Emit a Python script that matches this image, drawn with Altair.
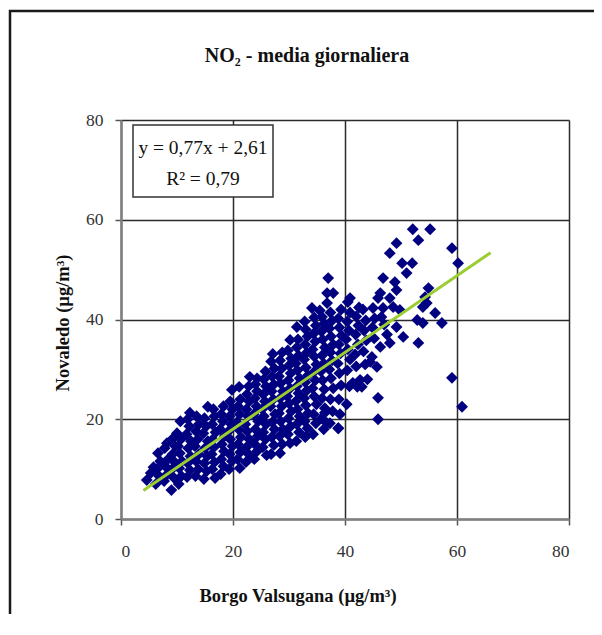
import altair as alt
import pandas as pd

# Scatter cloud (Borgo Valsugana, Novaledo)
core_x = [
    4.6, 5.3, 5.8,
    6.2, 6.8, 6.4, 7.0, 6.6,
    7.7, 8.3, 7.9, 8.4, 7.8, 8.2,
    9.0, 9.5, 9.1, 9.6, 9.2, 9.7, 9.3,
    10.3, 10.8, 10.4, 10.9, 10.5, 10.2, 10.7, 10.0, 10.6,
    11.8, 12.3, 11.9, 12.4, 12.0, 12.5, 11.7, 12.2, 11.9, 12.3,
    13.3, 13.8, 13.4, 13.9, 13.2, 13.7, 13.4, 13.9, 13.5,
    14.8, 15.3, 14.9, 15.4, 15.0, 15.5, 14.7, 15.2, 14.9, 15.5,
    16.8, 16.3, 16.7, 16.2, 16.6, 16.4, 16.9, 16.3, 16.7, 16.5,
    17.8, 18.3, 17.9, 18.4, 18.0, 18.5, 17.7, 18.2, 17.9, 18.3,
    19.3, 19.8, 19.4, 19.9, 19.5, 19.2, 19.7, 19.4, 19.9, 19.5, 19.8,
    21.2, 20.8, 21.3, 20.9, 21.4, 21.0, 20.7, 21.2, 20.9, 21.3, 21.1,
    22.3, 22.8, 22.4, 22.9, 22.5, 22.2, 22.7, 22.4, 22.9, 22.5, 22.8, 23.0,
    23.8, 24.3, 23.9, 24.4, 24.0, 24.5, 23.7, 24.2, 23.9, 24.3, 24.0, 24.3,
    26.0, 25.3, 25.8, 25.4, 25.9, 25.5, 25.2, 25.7, 25.4, 25.9, 25.5, 25.8,
    26.8, 27.3, 26.9, 27.4, 27.0, 27.5, 26.7, 27.2, 26.9, 27.3, 27.0, 27.4, 26.8, 27.1,
    28.4, 28.8, 28.3, 28.9, 28.5, 28.2, 28.7, 28.4, 28.9, 28.5, 28.2, 28.7, 28.4, 28.8,
    30.2, 29.8, 30.3, 29.9, 30.4, 30.0, 29.7, 30.2, 29.9, 30.3, 30.0, 30.4, 29.8, 30.2,
    31.3, 31.8, 31.4, 31.9, 31.5, 31.2, 31.7, 31.4, 31.9, 31.5, 31.2, 31.7, 31.4, 31.6, 31.4,
    32.9, 33.3, 32.8, 33.4, 33.0, 32.7, 33.2, 32.9, 33.4, 33.0, 32.7, 33.2, 32.9, 33.3, 33.0, 32.8,
    34.3, 34.8, 34.4, 34.9, 34.5, 34.2, 34.7, 34.4, 34.9, 34.5, 34.2, 34.7, 34.4, 34.8, 34.5, 34.1,
    36.2, 35.8, 36.4, 35.9, 36.3, 36.0, 35.7, 36.2, 35.9, 36.4, 36.0, 35.8, 36.3, 35.9, 35.5, 36.8,
    37.3, 37.8, 37.4, 37.9, 37.5, 37.2, 37.7, 37.4, 37.9, 37.5, 37.2, 37.7, 37.4, 36.8, 37.9, 37.0,
    38.8, 39.1, 38.9, 39.3, 39.0, 38.7, 39.2, 38.9, 39.4, 39.0, 38.8, 39.3,
    40.3, 40.8, 40.4, 40.9, 40.5, 40.2, 40.7, 40.4, 40.9, 40.5, 40.9,
    42.2, 41.4, 42.7, 42.0, 41.8, 42.3, 41.9, 42.4, 42.0, 42.5,
    43.0, 43.6, 43.3, 43.8, 43.4, 43.7, 43.2,
    45.7, 44.5, 44.8, 45.2, 44.9, 45.3, 45.0, 46.3, 45.9,
]
core_y = [
    7.8, 9.2, 10.4,
    7.0, 8.6, 10.0, 11.6, 13.2,
    7.6, 9.0, 10.6, 12.0, 14.2, 15.2,
    5.8, 8.2, 10.0, 11.4, 13.0, 14.6, 16.2,
    7.0, 8.6, 10.2, 11.6, 13.2, 14.6, 16.0, 17.2, 19.6,
    8.4, 9.8, 11.2, 12.6, 14.2, 15.6, 17.0, 18.6, 20.0, 21.3,
    8.6, 10.0, 11.6, 13.0, 14.6, 16.0, 17.6, 19.0, 20.6,
    8.0, 9.6, 11.2, 12.6, 14.2, 15.6, 17.2, 18.6, 20.2, 22.5,
    8.2, 10.0, 11.4, 13.0, 14.4, 16.0, 17.4, 19.0, 20.6, 22.0,
    9.0, 10.6, 12.0, 13.6, 15.0, 16.6, 18.0, 19.6, 21.0, 22.6,
    10.0, 11.6, 13.0, 14.6, 16.0, 17.6, 19.0, 20.6, 22.0, 23.6, 25.9,
    10.2, 12.0, 13.4, 15.0, 16.4, 18.0, 19.4, 21.0, 22.6, 24.0, 26.5,
    11.4, 13.0, 14.4, 16.0, 17.6, 19.0, 20.6, 22.0, 23.6, 25.0, 26.6, 28.5,
    12.0, 13.6, 15.0, 16.6, 18.0, 19.6, 21.0, 22.6, 24.2, 25.6, 27.0, 28.2,
    12.8, 14.4, 16.0, 17.4, 19.0, 20.6, 22.0, 23.6, 25.0, 26.6, 28.0, 29.6,
    13.0, 14.8, 16.4, 18.0, 19.4, 21.0, 22.6, 24.0, 25.6, 27.0, 28.6, 30.2, 31.6, 33.1,
    13.2, 15.0, 16.6, 18.0, 19.6, 21.2, 22.6, 24.2, 25.6, 27.2, 28.6, 30.2, 31.8, 33.4,
    15.2, 17.0, 18.6, 20.2, 21.6, 23.2, 24.6, 26.2, 27.8, 29.2, 30.8, 32.2, 33.8, 35.9,
    15.6, 17.4, 19.0, 20.6, 22.0, 23.6, 25.2, 26.6, 28.2, 29.8, 31.2, 32.8, 34.4, 36.0, 38.5,
    16.4, 18.2, 19.6, 21.2, 22.8, 24.2, 25.8, 27.4, 28.8, 30.4, 32.0, 33.4, 35.0, 36.6, 38.0, 39.6,
    17.0, 19.2, 21.0, 23.0, 24.6, 26.2, 27.8, 29.4, 31.0, 32.6, 34.0, 35.6, 37.2, 38.8, 40.4, 42.3,
    18.0, 20.2, 22.2, 24.2, 26.0, 27.8, 29.6, 31.2, 32.8, 34.4, 36.0, 37.6, 39.2, 40.5, 41.8, 43.3,
    19.2, 21.6, 24.0, 26.2, 28.2, 30.0, 31.8, 33.4, 35.0, 36.6, 38.2, 39.8, 41.4, 45.3, 45.3, 48.3,
    18.2, 21.0, 24.0, 26.8, 29.2, 31.2, 33.2, 35.0, 36.8, 38.4, 40.2, 42.0,
    23.0, 26.6, 29.8, 32.0, 34.0, 36.0, 37.8, 39.6, 41.4, 43.5, 44.3,
    26.5, 27.3, 27.9, 30.6, 33.0, 35.0, 37.0, 38.8, 40.6, 42.4,
    26.5, 31.0, 33.6, 35.8, 37.8, 39.8, 42.0,
    30.5, 31.5, 32.5, 36.2, 38.4, 40.2, 42.3, 45.3, 44.3,
]

# Scattered points away from the main cloud
outer_x = [45.9, 45.9, 46.3, 46.8, 46.8, 48.0, 48.0, 48.0, 48.6, 48.9,
           49.2, 49.2, 49.2, 49.8, 50.2, 50.4, 51.0, 52.0, 52.1, 52.9,
           53.1, 53.1, 53.9, 53.9, 54.3, 54.6, 54.9, 55.2, 56.1, 57.3,
           59.1, 59.1, 60.2, 60.9, 36.4, 38.8, 36.8, 47.0, 47.5, 46.5, 44.0]
outer_y = [24.3, 20.0, 34.5, 42.3, 48.3, 35.3, 44.3, 53.3, 42.5, 47.5,
           55.3, 45.9, 38.5, 41.9, 51.3, 36.5, 49.3, 51.3, 58.1, 39.9,
           55.9, 35.3, 39.3, 42.5, 44.5, 43.3, 46.3, 58.1, 41.3, 39.3,
           54.3, 28.3, 51.3, 22.5, 21.3, 18.2, 19.2, 39.0, 37.0, 40.5, 28.0]

# Linear trend line end points (y = 0,77x + 2,61)
trend_x = [4.0, 66.0]
trend_y = [5.7, 53.4]

ticks = [0, 20, 40, 60, 80]

assert len(core_x) == len(core_y)
assert len(outer_x) == len(outer_y)

pts = pd.DataFrame({"bv": core_x + outer_x, "nov": core_y + outer_y})
trend = pd.DataFrame({"bv": trend_x, "nov": trend_y})
one = pd.DataFrame({"k": [0]})

SERIF = "Liberation Serif"

xscale = alt.Scale(domain=[0, 80], nice=False, zero=False)
yscale = alt.Scale(domain=[0, 80], nice=False, zero=False)

xaxis = alt.Axis(values=ticks, title=None, grid=True, labelPadding=17)
yaxis = alt.Axis(values=ticks, title=None, grid=True, labelPadding=12)

points = alt.Chart(pts).mark_point(
    shape="diamond", filled=True, size=140, color="#000080", opacity=1
).encode(
    x=alt.X("bv:Q", scale=xscale, axis=xaxis),
    y=alt.Y("nov:Q", scale=yscale, axis=yaxis),
)

line = alt.Chart(trend).mark_line(color="#9ACD32", strokeWidth=3).encode(
    x=alt.X("bv:Q", scale=xscale),
    y=alt.Y("nov:Q", scale=yscale),
)

box = alt.Chart(one).mark_rect(fill="white", stroke="#333333", strokeWidth=1.5).encode(
    x=alt.value(12), x2=alt.value(152), y=alt.value(5), y2=alt.value(77)
)
eq1 = alt.Chart(one).mark_text(
    text="y = 0,77x + 2,61", font=SERIF, fontSize=19.5, color="#111111", align="center", baseline="middle"
).encode(x=alt.value(82), y=alt.value(28))
eq2 = alt.Chart(one).mark_text(
    text="R² = 0,79", font=SERIF, fontSize=19.5, color="#111111", align="center", baseline="middle"
).encode(x=alt.value(82), y=alt.value(59))

title = alt.Chart(one).mark_text(
    text="NO₂ - media giornaliera", font=SERIF, fontSize=20, fontWeight="bold",
    color="#111111", align="center", baseline="middle"
).encode(x=alt.value(186), y=alt.value(-64))

xtitle = alt.Chart(one).mark_text(
    text="Borgo Valsugana (µg/m³)", font=SERIF, fontSize=18.5, fontWeight="bold",
    color="#111111", align="center", baseline="middle"
).encode(x=alt.value(177), y=alt.value(476))

ytitle = alt.Chart(one).mark_text(
    text="Novaledo (µg/m³)", font=SERIF, fontSize=18.5, fontWeight="bold",
    color="#111111", align="center", baseline="middle", angle=270
).encode(x=alt.value(-58), y=alt.value(203))

# outer picture frame (only its left and top edges fall inside the picture)
frame = alt.Chart(one).mark_rect(fill=None, stroke="#1a1a1a", strokeWidth=2.5).encode(
    x=alt.value(-111), x2=alt.value(520), y=alt.value(-109), y2=alt.value(540)
)

chart = alt.layer(
    points, line, box, eq1, eq2, title, xtitle, ytitle, frame
).properties(
    width=448,
    height=399,
    autosize=alt.AutoSizeParams(type="none"),
    padding={"left": 113, "top": 112, "right": 25, "bottom": 95},
    background="white",
).configure_view(
    stroke=None
).configure_axis(
    domainColor="#808080",
    domainWidth=2.5,
    tickColor="#555555",
    tickWidth=1.5,
    tickSize=6,
    gridColor="#2b2b2b",
    gridWidth=1.5,
    gridOpacity=1,
    labelFont=SERIF,
    labelFontSize=17.5,
    labelColor="#333333",
)

chart.save("out.html", embed_options={"renderer": "svg", "actions": False})
